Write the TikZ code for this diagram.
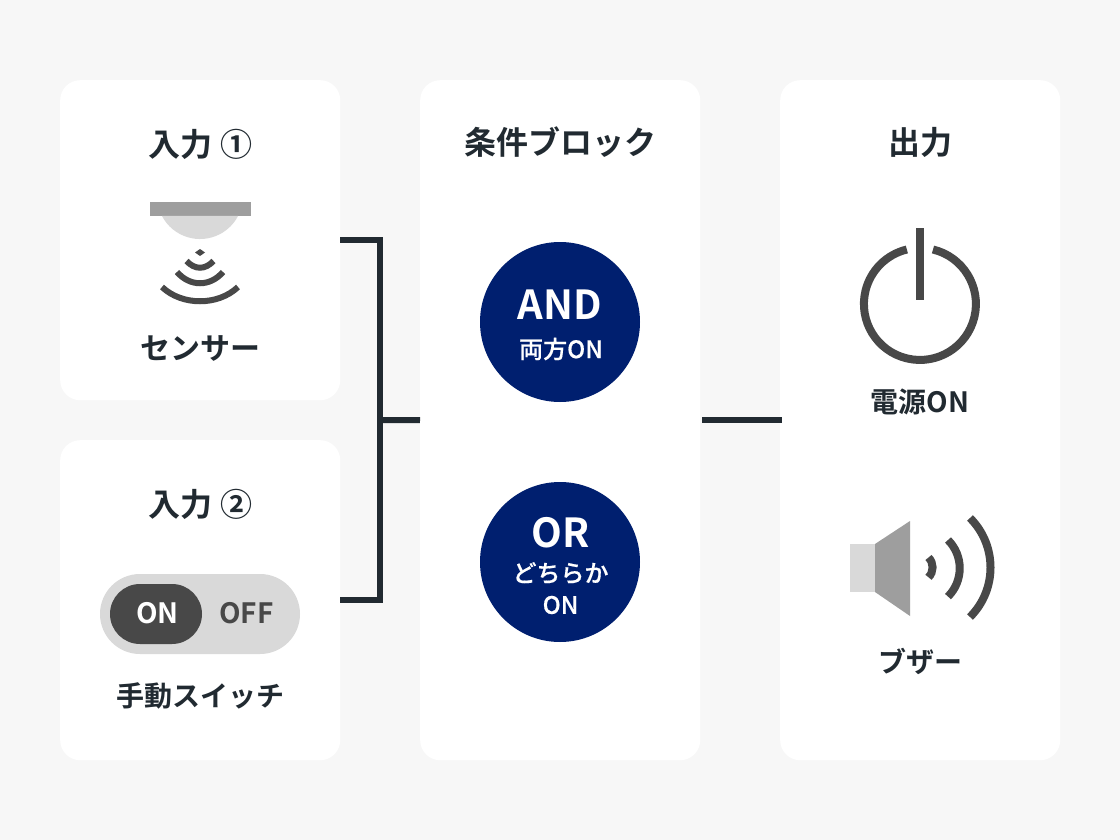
\documentclass[tikz,border=0pt]{standalone}
\usepackage{fontspec}
\setmainfont{Noto Sans CJK JP}[BoldFont={* Bold}]
\newfontfamily\medfont{Noto Sans CJK JP Medium}[FakeBold=0.5]
\definecolor{pagebg}{HTML}{F7F7F7}
\definecolor{ink}{HTML}{212A31}
\definecolor{navy}{HTML}{001F6F}
\definecolor{dark}{HTML}{484848}
\definecolor{mid}{HTML}{9E9E9E}
\definecolor{pale}{HTML}{D9D9D9}
\tikzset{
  card/.style={fill=white,rounded corners=20pt,minimum width=280pt,inner sep=0pt,anchor=north west},
  lbl/.style={text=ink,font=\bfseries\fontsize{32}{36}\selectfont,inner sep=0pt},
  lblmd/.style={text=ink,font=\bfseries\fontsize{30}{34}\selectfont,inner sep=0pt},
  lblsm/.style={text=ink,font=\bfseries\fontsize{28}{32}\selectfont,inner sep=0pt},
  disc/.style={circle,fill=navy,minimum size=160pt,inner sep=0pt},
  wire/.style={draw=ink,line width=6pt},
  ico/.style={draw=dark,line width=6pt},
  spk/.style={draw=dark,line width=8pt},
  big/.style={text=white,font=\bfseries\fontsize{40}{44}\selectfont,inner sep=0pt},
  sub/.style={text=white,font=\medfont\fontsize{24}{28}\selectfont,inner sep=0pt},
  tog/.style={font=\bfseries\fontsize{28}{32}\selectfont,inner sep=0pt},
}
\begin{document}
\begin{tikzpicture}[x=1pt,y=-1pt]
\useasboundingbox (0,0) rectangle (1120,840);
\fill[pagebg] (0,0) rectangle (1120,840);
% cards
\node[card,minimum height=320pt] (inA) at (60,80) {};
\node[card,minimum height=320pt] (inB) at (60,440) {};
\node[card,minimum height=680pt] (cond) at (420,80) {};
\node[card,minimum height=680pt] (out) at (780,80) {};
% connectors
\coordinate (junc) at (380,420);
\draw[wire,line join=miter] (inA.east) -| (junc) |- (inB.east);
\draw[wire] (junc) -- (cond.west);
\draw[wire] ([xshift=2pt]cond.east) -- ([xshift=2pt]out.west);
% headings
\node[lbl] (t1) at (200.5,144) {入力 ①};
\node[lbl] (t2) at (200.5,504) {入力 ②};
\node[lbl] (t3) at (560,142) {条件ブロック};
\node[lbl] (t4) at (920,142) {出力};
% sensor
\fill[mid] (149.5,202) rectangle (250.5,216);
\fill[pale] (162,216) arc[start angle=207.6,end angle=332.4,radius=42.9pt] -- cycle;
\fill[dark] (200,249) -- (205,252.5) -- (200,256) -- (195,252.5) -- cycle;
\draw[ico] (186.5,261) .. controls (195,270) and (205,270) .. (213.5,261);
\draw[ico] (177,272) .. controls (190,287) and (210,287) .. (223,272);
\draw[ico] (162,287) .. controls (182,306) and (218,306) .. (238,287);
\node[lblmd] (s) at (200,348.5) {センサー};
% toggle
\node[fill=pale,rounded corners=40pt,minimum width=200pt,minimum height=80pt,inner sep=0pt] (togg) at (200,614) {};
\node[fill=dark,rounded corners=30pt,minimum width=92pt,minimum height=60pt,inner sep=0pt] (on) at (156,614) {};
\node[tog,text=white] (ont) at (157.5,613.5) {ON};
\node[tog,text=dark] (off) at (246.5,613.5) {OFF};
\node[lblsm] (m) at (200,696) {手動スイッチ};
% discs
\node[disc] (and) at (560,322) {};
\node[big] (andt) at (560,304.5) {AND};
\node[sub] (andb) at (561,349) {両方ON};
\node[disc] (or) at (560,562) {};
\node[big] (ort) at (561,533) {OR};
\node[sub] (orb) at (560.5,573) {どちらか};
\node[sub] (orc) at (560.5,605) {ON};
% power
\draw[draw=dark,line width=8pt] (933,249.5) arc[start angle=76.5,end angle=-256.5,radius=56pt];
\fill[dark] (916,228) rectangle (924,300);
\node[lblsm] (p) at (920,402) {電源ON};
% speaker
\fill[pale] (850,544) rectangle (875,592);
\fill[mid] (875,544) -- (910,521) -- (910,616) -- (875,592) -- cycle;
\draw[spk] (928.5,557.5) arc[start angle=45,end angle=-45,radius=14pt];
\draw[spk] (948,540) arc[start angle=45,end angle=-45,radius=40pt];
\draw[spk] (970,518) arc[start angle=45,end angle=-45,radius=70pt];
\node[lblsm] (b) at (920,661) {ブザー};
\end{tikzpicture}
\end{document}
